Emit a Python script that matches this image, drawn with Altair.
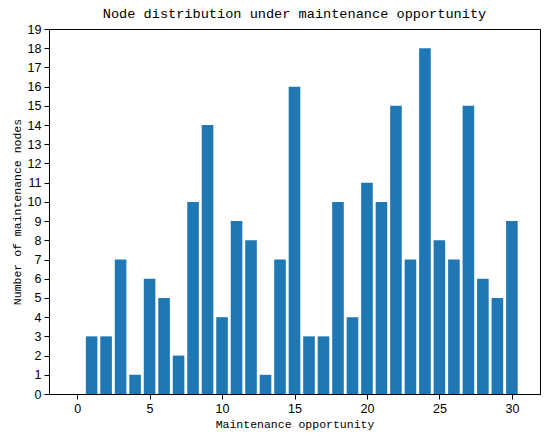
import altair as alt
import pandas as pd

opportunity = list(range(0, 31))
nodes = [0, 3, 3, 7, 1, 6, 5, 2, 10, 14, 4, 9, 8, 1, 7, 16, 3, 3, 10, 4, 11, 10, 15, 7, 18, 8, 7, 15, 6, 5, 9]

df = pd.DataFrame({"opportunity": opportunity, "nodes": nodes})

mono = "Liberation Mono"
sans = "Liberation Sans"

chart = alt.Chart(df).transform_calculate(
    x0="datum.opportunity - 0.4", x1="datum.opportunity + 0.4"
).mark_bar(color="#1f77b4").encode(
    x=alt.X("x0:Q",
            scale=alt.Scale(domain=[-1.94, 31.94], nice=False, zero=False),
            axis=alt.Axis(values=[0, 5, 10, 15, 20, 25, 30], title="Maintenance opportunity",
                          grid=False, tickSize=5, tickColor="black", domainColor="black",
                          labelFont=sans, labelFontSize=12.5, labelColor="black", labelPadding=3,
                          titleFont=mono, titleFontSize=11.5, titleFontWeight="normal",
                          titleColor="black", titlePadding=4)),
    x2="x1:Q",
    y=alt.Y("nodes:Q",
            scale=alt.Scale(domain=[0, 19], nice=False),
            axis=alt.Axis(values=list(range(0, 20)), title="Number of maintenance nodes",
                          grid=False, tickSize=5, tickColor="black", domainColor="black",
                          labelFont=sans, labelFontSize=12.5, labelColor="black", labelPadding=3,
                          titleFont=mono, titleFontSize=11.5, titleFontWeight="normal",
                          titleColor="black", titlePadding=5)),
    y2=alt.datum(0),
).properties(
    width=491, height=365,
    title=alt.TitleParams("Node distribution under maintenance opportunity",
                          font=mono, fontSize=13.6, fontWeight="normal", color="black",
                          offset=7, dy=5),
    autosize=alt.AutoSizeParams(type="none"),
    padding={"left": 41, "top": 21, "right": 2, "bottom": 36},
).configure_view(stroke="black", strokeWidth=1)

chart.save("out.html", embed_options={"renderer": "svg", "actions": False})
